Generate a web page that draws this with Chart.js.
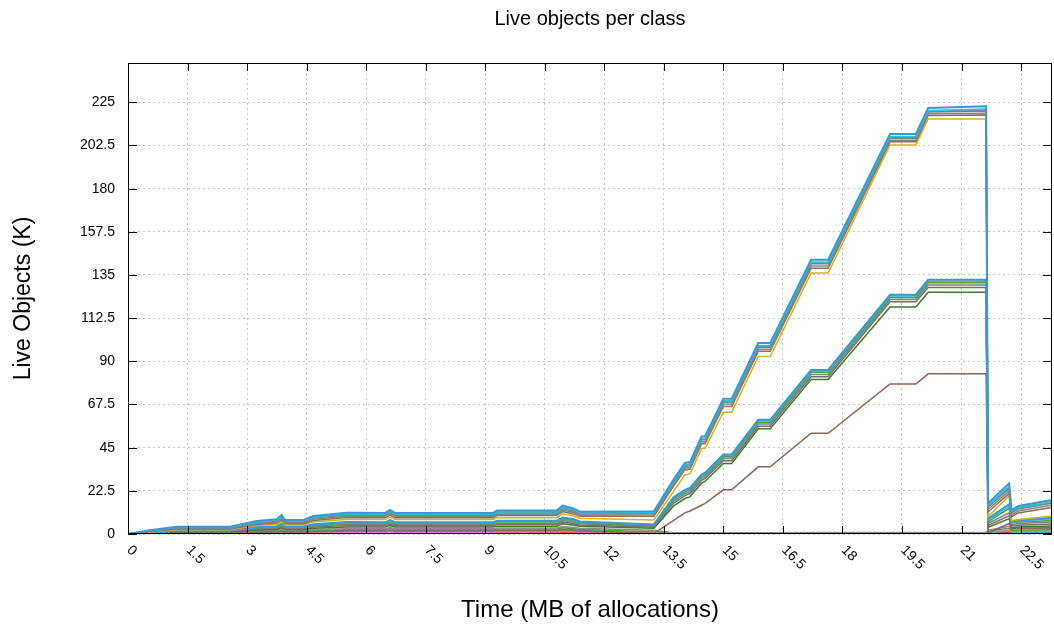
<!DOCTYPE html>
<html>
<head>
<meta charset="utf-8">
<title>Live objects per class</title>
<script src="https://cdn.jsdelivr.net/npm/chart.js@4.4.1/dist/chart.umd.min.js"></script>
<style>
  html, body { margin: 0; padding: 0; background: #fff; }
  #wrap { width: 1054px; height: 634px; }
</style>
</head>
<body>
<div id="wrap"><canvas id="myChart" width="1054" height="634"></canvas></div>
<script>
'use strict';

// time axis (MB of allocations), shared by every class
let times = [0, 0.5, 1.23, 2.57, 3.24, 3.75, 3.87, 3.96, 4.42, 4.67, 5.51, 6.48, 6.6, 6.73, 9.2, 9.3, 10.8, 10.95, 11.2, 11.39,
    13.25, 13.74, 14.03, 14.16, 14.45, 14.54, 15.0, 15.21, 15.88, 16.18, 17.21, 17.64, 19.2, 19.85, 20.16, 21.62,
    21.67, 22.2, 22.26, 22.43, 23.28];

// live objects (K) per class
let classA1 = [0, 1.8, 3.8, 3.8, 6.8, 7.7, 9.9, 7.3, 7.3, 9.4, 11.1, 11.0, 12.5, 11.0, 11.0, 12.2, 12.2, 14.8, 13.4, 11.6,
    11.8, 28.2, 37.0, 37.5, 50.8, 51.0, 70.5, 70.5, 99.5, 99.5, 143.0, 143.0, 208.5, 208.5, 222.0, 223.0,
    16.0, 26.4, 12.5, 14.6, 17.7];
let classA2 = [0, 1.6, 3.5, 3.5, 6.3, 7.2, 9.2, 6.9, 6.9, 8.9, 10.5, 10.4, 11.8, 10.4, 10.4, 11.6, 11.6, 14.0, 12.7, 11.0,
    11.2, 27.2, 36.0, 36.5, 49.8, 50.0, 69.5, 69.5, 98.3, 98.3, 141.8, 141.8, 207.2, 207.2, 220.8, 221.5,
    15.0, 25.0, 11.8, 13.8, 16.8];
let classA7 = [0, 1.5, 3.3, 3.3, 6.1, 6.9, 8.9, 6.6, 6.6, 8.6, 10.2, 10.1, 11.5, 10.1, 10.1, 11.3, 11.3, 13.6, 12.3, 10.7,
    10.9, 26.8, 35.6, 36.1, 49.4, 49.6, 69.1, 69.1, 97.9, 97.9, 141.3, 141.3, 206.8, 206.8, 220.4, 221.0,
    14.5, 24.4, 11.4, 13.4, 16.4];
let classA3 = [0, 1.4, 3.2, 3.2, 5.9, 6.7, 8.6, 6.4, 6.4, 8.3, 9.9, 9.8, 11.2, 9.8, 9.8, 11.0, 11.0, 13.3, 12.0, 10.4,
    10.6, 26.5, 35.2, 35.7, 49.0, 49.2, 68.7, 68.7, 97.4, 97.4, 140.8, 140.8, 206.3, 206.3, 220.0, 220.5,
    14.0, 23.8, 11.0, 13.0, 16.0];
let classA4 = [0, 1.2, 2.9, 2.9, 5.5, 6.2, 8.0, 5.9, 5.9, 7.7, 9.3, 9.2, 10.5, 9.2, 9.2, 10.3, 10.3, 12.5, 11.3, 9.8,
    10.0, 25.6, 34.3, 34.8, 48.0, 48.2, 67.6, 67.6, 96.3, 96.3, 139.7, 139.7, 205.3, 205.3, 219.0, 219.3,
    12.8, 22.5, 10.0, 12.0, 15.0];
let classA5 = [0, 1.0, 2.6, 2.6, 5.0, 5.7, 7.4, 5.4, 5.4, 7.1, 8.6, 8.5, 9.8, 8.5, 8.5, 9.6, 9.6, 11.7, 10.6, 9.2,
    9.3, 24.8, 33.4, 33.9, 47.0, 47.2, 66.5, 66.5, 95.2, 95.2, 138.5, 138.5, 204.5, 204.5, 218.2, 218.4,
    11.5, 21.2, 9.0, 11.0, 13.8];
let classA6 = [0, 0.8, 2.2, 2.2, 4.4, 5.1, 6.6, 4.8, 4.8, 6.4, 7.6, 7.5, 8.8, 7.5, 7.5, 8.5, 8.5, 10.5, 9.5, 8.2,
    7.3, 22.0, 30.8, 31.3, 44.5, 44.7, 63.5, 63.5, 92.5, 92.5, 136.0, 136.0, 202.8, 202.8, 216.3, 216.3,
    9.0, 20.0, 7.0, 7.5, 9.4];
let classB1 = [0, 0.7, 1.9, 1.9, 3.6, 4.1, 5.4, 3.9, 3.9, 5.1, 6.2, 6.1, 7.2, 6.1, 6.1, 6.9, 6.9, 8.6, 7.8, 6.5,
    5.0, 19.0, 23.0, 24.0, 31.0, 32.0, 41.5, 41.5, 59.5, 59.5, 85.5, 85.5, 124.7, 124.7, 132.5, 132.5,
    8.0, 15.5, 6.5, 7.0, 8.5];
let classB6 = [0, 0.65, 1.8, 1.8, 3.4, 3.9, 5.1, 3.7, 3.7, 4.8, 5.9, 5.8, 6.8, 5.8, 5.8, 6.5, 6.5, 8.2, 7.4, 6.2,
    4.8, 18.5, 22.5, 23.5, 30.5, 31.5, 40.9, 40.9, 58.9, 58.9, 84.9, 84.9, 124.0, 124.0, 131.8, 131.8,
    7.2, 14.5, 6.2, 6.6, 7.8];
let classB2 = [0, 0.6, 1.7, 1.7, 3.2, 3.7, 4.8, 3.5, 3.5, 4.6, 5.6, 5.5, 6.5, 5.5, 5.5, 6.2, 6.2, 7.8, 7.0, 5.9,
    4.5, 18.0, 22.0, 23.0, 30.0, 31.0, 40.3, 40.3, 58.3, 58.3, 84.3, 84.3, 123.3, 123.3, 131.0, 131.0,
    6.5, 13.4, 6.0, 6.3, 7.0];
let classB3 = [0, 0.5, 1.5, 1.5, 2.9, 3.3, 4.3, 3.1, 3.1, 4.1, 5.0, 4.9, 5.8, 4.9, 4.9, 5.5, 5.5, 7.0, 6.3, 5.3,
    4.0, 17.0, 21.0, 22.0, 29.0, 30.0, 39.3, 39.3, 57.3, 57.3, 83.2, 83.2, 122.2, 122.2, 129.8, 129.8,
    5.5, 11.0, 5.0, 5.5, 6.2];
let classB4 = [0, 0.4, 1.2, 1.2, 2.5, 2.9, 3.8, 2.7, 2.7, 3.6, 4.4, 4.3, 5.2, 4.3, 4.3, 4.9, 4.9, 6.2, 5.5, 4.7,
    3.5, 16.0, 20.0, 21.0, 28.0, 29.0, 38.2, 38.2, 56.2, 56.2, 82.0, 82.0, 121.0, 121.0, 128.5, 128.5,
    4.5, 9.5, 4.2, 4.6, 5.2];
let classB5 = [0, 0.3, 1.0, 1.0, 2.1, 2.4, 3.2, 2.3, 2.3, 3.0, 3.7, 3.6, 4.4, 3.6, 3.6, 4.1, 4.1, 5.3, 4.7, 4.0,
    3.0, 14.5, 18.5, 19.5, 26.5, 27.5, 36.8, 36.8, 54.8, 54.8, 80.5, 80.5, 118.3, 118.3, 126.0, 126.0,
    3.5, 8.0, 3.2, 3.6, 4.2];
let classC = [0, 0.2, 0.5, 0.5, 0.8, 1.0, 1.2, 1.0, 1.0, 1.2, 1.5, 1.5, 1.8, 1.5, 1.5, 1.7, 1.7, 2.2, 2.0, 1.6,
    0.3, 7.0, 11.0, 12.0, 15.0, 16.0, 23.0, 23.0, 35.0, 35.0, 52.5, 52.5, 78.2, 78.2, 83.5, 83.5,
    0.5, 5.5, 3.0, 3.0, 3.2];
let classD1 = [0, 0.3, 0.9, 0.9, 1.6, 1.9, 2.4, 1.8, 1.8, 2.3, 2.8, 2.8, 3.4, 2.8, 2.8, 3.1, 3.1, 3.9, 3.5, 3.0,
    2.0, 0.6, 0.6, 0.6, 0.6, 0.6, 0.7, 0.7, 0.7, 0.7, 0.8, 0.8, 0.8, 0.8, 0.8, 0.8,
    2.0, 4.0, 2.5, 2.7, 3.0];
let classD5 = [0, 0.2, 0.7, 0.7, 1.3, 1.5, 2.0, 1.5, 1.5, 1.9, 2.3, 2.3, 2.8, 2.3, 2.3, 2.6, 2.6, 3.3, 2.9, 2.5,
    1.0, 0.4, 0.4, 0.4, 0.4, 0.4, 0.4, 0.4, 0.4, 0.4, 0.5, 0.5, 0.5, 0.5, 0.5, 0.5,
    1.5, 3.0, 1.8, 2.0, 2.2];
let classD2 = [0, 0.1, 0.3, 0.3, 0.5, 0.6, 0.8, 0.6, 0.6, 0.7, 0.9, 0.9, 1.1, 0.9, 0.9, 1.0, 1.0, 1.4, 1.2, 1.0,
    0.3, 0.3, 0.3, 0.3, 0.3, 0.3, 0.3, 0.3, 0.3, 0.3, 0.3, 0.3, 0.3, 0.3, 0.3, 0.3,
    1.0, 2.0, 1.2, 1.3, 1.5];
let classD3 = [0, 0.2, 0.6, 0.6, 1.0, 1.2, 1.5, 1.2, 1.2, 1.4, 1.7, 1.7, 2.1, 1.7, 1.7, 1.9, 1.9, 2.5, 2.2, 1.8,
    0.2, 0.2, 0.2, 0.2, 0.2, 0.2, 0.2, 0.2, 0.2, 0.2, 0.2, 0.2, 0.2, 0.2, 0.2, 0.2,
    0.8, 1.5, 0.9, 1.0, 1.1];
let classD4 = [0, 0.1, 0.2, 0.2, 0.3, 0.3, 0.4, 0.3, 0.3, 0.4, 0.5, 0.5, 0.6, 0.5, 0.5, 0.6, 0.6, 0.9, 0.7, 0.6,
    0.1, 0.1, 0.1, 0.1, 0.1, 0.1, 0.1, 0.1, 0.1, 0.1, 0.1, 0.1, 0.1, 0.1, 0.1, 0.1,
    0.4, 0.9, 0.5, 0.5, 0.6];

let classNames = ['A1', 'A2', 'A7', 'A3', 'A4', 'A5', 'A6', 'B1', 'B6', 'B2', 'B3', 'B4', 'B5', 'C',
    'D1', 'D5', 'D2', 'D3', 'D4'];
let classValues = [classA1, classA2, classA7, classA3, classA4, classA5, classA6, classB1, classB6, classB2, classB3,
    classB4, classB5, classC, classD1, classD5, classD2, classD3, classD4];
let classColors = ['#3a96d4', '#1ccbe2', '#6d8c92', '#7f7f7f', '#8a8577', '#8c6d5e', '#d4b21c', '#3a96d4', '#1ccbe2',
    '#4d9a2e', '#7f7f7f', '#6e6e6e', '#3f7a2c', '#8b6452', '#8c8c8c', '#4d9a2e', '#e377c2', '#17becf', '#c0392b'];

let xTicks = [0, 1.5, 3, 4.5, 6, 7.5, 9, 10.5, 12, 13.5, 15, 16.5, 18, 19.5, 21, 22.5];
let xTickLabels = ['0', '1.5', '3', '4.5', '6', '7.5', '9', '10.5', '12', '13.5', '15', '16.5', '18', '19.5', '21', '22.5'];
let yTicks = [0, 22.5, 45, 67.5, 90, 112.5, 135, 157.5, 180, 202.5, 225];
let yTickLabels = ['0', '22.5', '45', '67.5', '90', '112.5', '135', '157.5', '180', '202.5', '225'];

const FONT = '"Liberation Sans", Arial, Helvetica, sans-serif';

let datasets = [];
for (let i = 0; i < classValues.length; i++) {
    datasets.push({
        label: classNames[i],
        data: classValues[i].map((v, j) => ({ x: times[j], y: v })),
        borderColor: classColors[i],
        borderWidth: (i === 0 || i === 7) ? 2 : 1.5,
        pointRadius: 0,
        fill: false,
        tension: 0
    });
}

// gnuplot style frame: black border, inward ticks, rotated x labels
const framePlugin = {
    id: 'frame',
    afterDatasetsDraw(chart) {
        const ctx = chart.ctx;
        const a = chart.chartArea;
        const xs = chart.scales.x;
        const ys = chart.scales.y;
        ctx.save();
        ctx.strokeStyle = '#000';
        ctx.lineWidth = 1;
        ctx.beginPath();
        for (let i = 0; i < xTicks.length; i++) {
            let px = Math.round(xs.getPixelForValue(xTicks[i])) + 0.5;
            ctx.moveTo(px, a.bottom);
            ctx.lineTo(px, a.bottom - 8);
            ctx.moveTo(px, a.top);
            ctx.lineTo(px, a.top + 8);
        }
        for (let i = 0; i < yTicks.length; i++) {
            let py = Math.round(ys.getPixelForValue(yTicks[i])) + 0.5;
            ctx.moveTo(a.left, py);
            ctx.lineTo(a.left + 9, py);
            ctx.moveTo(a.right, py);
            ctx.lineTo(a.right - 9, py);
        }
        ctx.stroke();
        ctx.strokeRect(Math.round(a.left) + 0.5, Math.round(a.top) + 0.5,
            Math.round(a.right - a.left) - 1, Math.round(a.bottom - a.top) - 1);
        ctx.restore();
    },
    afterDraw(chart) {
        const ctx = chart.ctx;
        const xs = chart.scales.x;
        const a = chart.chartArea;
        ctx.save();
        ctx.fillStyle = '#000';
        ctx.font = '14px ' + FONT;
        ctx.textAlign = 'left';
        ctx.textBaseline = 'middle';
        for (let i = 0; i < xTicks.length; i++) {
            let px = xs.getPixelForValue(xTicks[i]);
            ctx.save();
            ctx.translate(px + 1, a.bottom + 14);
            ctx.rotate(Math.PI / 4);
            ctx.fillText(xTickLabels[i], 0, 0);
            ctx.restore();
        }
        ctx.restore();
    }
};

const ctx = document.getElementById('myChart').getContext('2d');
const myChart = new Chart(ctx, {
    type: 'line',
    data: { datasets: datasets },
    options: {
        responsive: false,
        animation: false,
        layout: { padding: { left: 0, right: 2, top: 0, bottom: 0 } },
        plugins: {
            legend: { display: false },
            tooltip: { enabled: false },
            title: {
                display: true,
                text: 'Live objects per class',
                fullSize: false,
                color: '#000',
                font: { family: FONT, size: 20, weight: 'normal' },
                padding: { top: 7, bottom: 32 }
            }
        },
        scales: {
            x: {
                type: 'linear',
                min: 0,
                max: 23.28,
                afterBuildTicks: s => { s.ticks = xTicks.map(v => ({ value: v })); },
                afterFit: s => { s.height = 100; },
                ticks: { display: false },
                grid: { color: '#c4c4c4', lineWidth: 1, drawTicks: false },
                border: { display: false, dash: [2, 3] },
                title: {
                    display: true,
                    text: 'Time (MB of allocations)',
                    color: '#000',
                    font: { family: FONT, size: 24 },
                    padding: { top: 0, bottom: 9 }
                }
            },
            y: {
                type: 'linear',
                min: 0,
                max: 245.5,
                afterBuildTicks: s => { s.ticks = yTicks.map(v => ({ value: v })); },
                afterFit: s => { s.width = 128; },
                ticks: {
                    color: '#000',
                    padding: 13,
                    font: { family: FONT, size: 14 },
                    callback: (v, i) => yTickLabels[i]
                },
                grid: { color: '#c4c4c4', lineWidth: 1, drawTicks: false },
                border: { display: false, dash: [2, 3] },
                title: {
                    display: true,
                    text: 'Live Objects (K)',
                    color: '#000',
                    font: { family: FONT, size: 23 },
                    padding: { top: 10, bottom: 0 }
                }
            }
        }
    },
    plugins: [framePlugin]
});
</script>
</body>
</html>
